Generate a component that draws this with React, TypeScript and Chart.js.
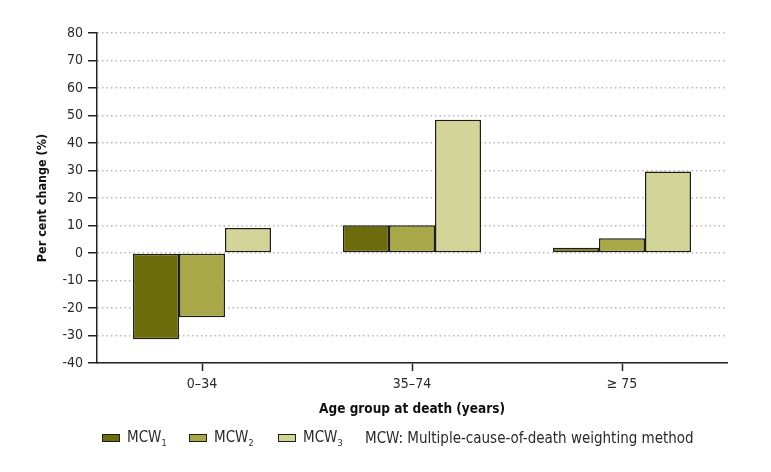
import React, { useEffect, useRef } from 'react';
import { Chart, registerables } from 'chart.js';

Chart.register(...registerables);

const categories = ['0–34', '35–74', '≥ 75'];
const mcw1 = [-31.4, 10.1, 1.9];
const mcw2 = [-23.4, 10.1, 5.4];
const mcw3 = [9.1, 48.5, 29.6];
const seriesNames = ['MCW', 'MCW', 'MCW'];
const seriesSubs = ['1', '2', '3'];
const seriesColors = ['#6c6c0c', '#a8a848', '#d3d497'];
const yMin = -40;
const yMax = 80;
const yStep = 10;
const noteText = 'MCW: Multiple-cause-of-death weighting method';
const xTitle = 'Age group at death (years)';
const yTitle = 'Per cent change (%)';

const FONT = '"DejaVu Sans Condensed", "Liberation Sans Narrow", "Liberation Sans", sans-serif';

export default function App() {
  const ref = useRef<HTMLCanvasElement | null>(null);

  useEffect(() => {
    if (!ref.current) return;
    const values = [mcw1, mcw2, mcw3];
    const chart = new Chart(ref.current, {
      type: 'bar',
      data: {
        labels: categories,
        datasets: values.map((v, i) => ({
          label: seriesNames[i] + seriesSubs[i],
          data: v,
          backgroundColor: seriesColors[i],
          borderColor: '#1e1e14',
          borderWidth: 1.5,
          borderSkipped: false,
          categoryPercentage: 0.657,
          barPercentage: 1,
        })),
      },
      options: {
        responsive: false,
        animation: false,
        layout: { padding: { top: 33, right: 44, bottom: 0, left: 0 } },
        plugins: { legend: { display: false }, tooltip: { enabled: false } },
        scales: {
          x: {
            grid: {
              display: true,
              drawOnChartArea: false,
              drawTicks: true,
              tickLength: 8,
              offset: false,
              tickColor: '#222',
              tickWidth: 1.5,
            },
            border: { color: '#222', width: 1.5 },
            ticks: { color: '#2a2a2a', font: { family: FONT, size: 14 }, padding: 5 },
            title: {
              display: true,
              text: xTitle,
              color: '#111',
              font: { family: FONT, size: 13.5, weight: 'bold' },
              padding: { top: 0, bottom: 54 },
            },
            afterFit: (s: any) => {
              s.height = 109;
            },
          },
          y: {
            min: yMin,
            max: yMax,
            ticks: { stepSize: yStep, color: '#2a2a2a', font: { family: FONT, size: 14 }, padding: 5 },
            grid: {
              color: '#b8b8b8',
              lineWidth: 1.5,
              tickColor: '#222',
              tickLength: 9,
              tickWidth: 1.5,
            },
            border: { dash: [1.5, 3], color: '#222', width: 1.5 },
            title: {
              display: true,
              text: yTitle,
              color: '#111',
              font: { family: FONT, size: 12.5, weight: 'bold' },
              padding: { top: 35, bottom: 0 },
            },
            afterFit: (s: any) => {
              s.width = 97;
            },
          },
        },
      },
    });
    return () => chart.destroy();
  }, []);

  const itemLefts = [102, 189, 278];
  return (
    <div style={{ position: 'absolute', left: 0, top: 0, width: 771, height: 472, background: '#fff' }}>
      <canvas ref={ref} width={771} height={472} style={{ display: 'block' }} />
      {seriesNames.map((n, i) => (
        <div
          key={i}
          style={{
            position: 'absolute',
            left: itemLefts[i],
            top: 427,
            height: 22,
            display: 'flex',
            alignItems: 'center',
            fontFamily: FONT,
            fontSize: 15,
            color: '#2a2a2a',
            whiteSpace: 'nowrap',
          }}
        >
          <span
            style={{
              display: 'inline-block',
              width: 16,
              height: 6,
              background: seriesColors[i],
              border: '1px solid #1e1e14',
              marginRight: 7,
            }}
          />
          <span>
            {n}
            <sub style={{ fontSize: 9, verticalAlign: -4 }}>{seriesSubs[i]}</sub>
          </span>
        </div>
      ))}
      <div
        style={{
          position: 'absolute',
          left: 365,
          top: 427,
          height: 22,
          display: 'flex',
          alignItems: 'center',
          fontFamily: FONT,
          fontSize: 15,
          color: '#2a2a2a',
          whiteSpace: 'nowrap',
        }}
      >
        {noteText}
      </div>
    </div>
  );
}
